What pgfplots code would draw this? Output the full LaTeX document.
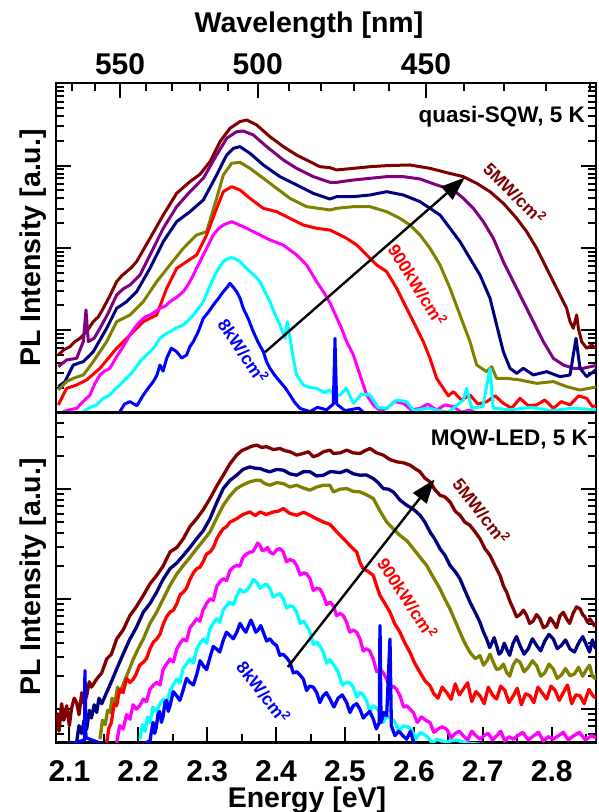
\documentclass[border=0pt]{standalone}
\usepackage{pgfplots}
\pgfplotsset{compat=1.18}
\usepackage{fontspec}
\setmainfont{Liberation Sans}
\usetikzlibrary{arrows.meta}
\definecolor{cMar}{RGB}{128,0,0}
\definecolor{cPur}{RGB}{128,0,128}
\definecolor{cNav}{RGB}{0,0,128}
\definecolor{cOli}{RGB}{128,128,0}
\definecolor{cRed}{RGB}{255,0,0}
\definecolor{cMag}{RGB}{255,0,255}
\definecolor{cCya}{RGB}{0,255,255}
\definecolor{cBlu}{RGB}{0,0,255}
\newcommand{\tfont}{\fontsize{30}{30}\selectfont\bfseries}
\newcommand{\lfont}{\fontsize{28.5}{28.5}\selectfont\bfseries}
\newcommand{\pfont}{\fontsize{22.5}{22.5}\selectfont\bfseries}
\newcommand{\afont}{\fontsize{17.5}{17.5}\selectfont\bfseries}
\pgfplotsset{
  panel/.style={scale only axis, width=540pt, xmin=2.0806, xmax=2.8643,
    axis line style={line width=2.4pt},
    tick style={black, line width=2pt},
    major tick length=15pt, minor tick length=8pt, tick align=inside,
    ytick={1,2,3}, yticklabels={},
    clip mode=individual,
    every axis plot/.append style={line join=round, no marks},
  },
}
\begin{document}
\begin{tikzpicture}
\path[use as bounding box] (-56pt,-69.7pt) rectangle (542pt,742.3pt);
% ---------------- TOP PANEL (quasi-SQW) ----------------
\begin{axis}[panel, at={(0pt,330pt)}, anchor=south west, height=329pt,
  ymin=0, ymax=4,
  xtick pos=right, xticklabel pos=right,
  xtick={2.1736,2.3734,2.6176}, xticklabels={550,500,450},
  minor xtick={2.1035,2.1379,2.2106,2.2490,2.2889,2.3303,2.4183,2.4650,2.5137,2.5645,2.6731,2.7312,2.7920,2.8558},
  xticklabel style={font=\tfont, anchor=base, yshift=8.3pt},
  minor ytick={0.301,0.477,0.602,0.699,0.778,0.845,0.903,0.954,1.301,1.477,1.602,1.699,1.778,1.845,1.903,1.954,2.301,2.477,2.602,2.699,2.778,2.845,2.903,2.954,3.301,3.477,3.602,3.699,3.778,3.845,3.903,3.954},
  every axis plot/.append style={line width=3pt},
]
% maroon 5 MW/cm2
\addplot[cMar] coordinates {(2.0839,0.697)(2.0920,0.76)(2.1009,0.798)(2.1080,0.86)(2.1154,0.899)(2.1250,0.98)(2.1347,1.102)(2.1420,1.16)(2.1492,1.264)(2.1590,1.42)(2.1686,1.588)(2.1760,1.66)(2.1831,1.710)(2.1900,1.76)(2.1976,1.832)(2.2170,2.115)(2.2363,2.399)(2.2557,2.662)(2.2750,2.804)(2.2895,2.893)(2.3041,3.047)(2.3186,3.290)(2.3331,3.453)(2.3476,3.534)(2.3573,3.554)(2.3718,3.493)(2.3911,3.351)(2.4105,3.230)(2.4298,3.128)(2.4492,3.047)(2.4637,2.986)(2.4782,2.974)(2.4879,2.946)(2.5121,2.966)(2.5363,2.986)(2.5605,2.999)(2.5943,3.007)(2.6234,2.966)(2.6476,2.914)(2.6718,2.865)(2.6911,2.784)(2.7105,2.682)(2.7298,2.541)(2.7492,2.358)(2.7637,2.196)(2.7782,1.994)(2.7927,1.750)(2.8024,1.588)(2.8121,1.426)(2.8217,1.264)(2.8266,1.102)(2.8314,1.021)(2.8362,1.183)(2.8387,1.021)(2.8435,0.859)(2.8508,0.778)(2.8580,0.818)(2.8672,0.758)};
% purple
\addplot[cPur] coordinates {(2.0839,0.555)(2.0960,0.636)(2.1105,0.656)(2.1202,0.859)(2.1241,1.244)(2.1275,0.859)(2.1360,0.90)(2.1444,1.021)(2.1560,1.20)(2.1686,1.426)(2.1780,1.50)(2.1879,1.548)(2.2025,1.669)(2.2170,1.913)(2.2363,2.237)(2.2557,2.500)(2.2750,2.682)(2.2944,2.845)(2.3137,3.128)(2.3283,3.331)(2.3428,3.412)(2.3524,3.420)(2.3669,3.372)(2.3863,3.230)(2.4105,3.068)(2.4298,2.966)(2.4540,2.865)(2.4782,2.796)(2.4879,2.796)(2.5121,2.824)(2.5363,2.845)(2.5605,2.865)(2.5847,2.865)(2.6089,2.837)(2.6330,2.764)(2.6573,2.703)(2.6718,2.601)(2.6863,2.480)(2.7008,2.318)(2.7153,2.115)(2.7298,1.832)(2.7443,1.588)(2.7588,1.345)(2.7734,1.102)(2.7879,0.859)(2.8024,0.656)(2.8169,0.575)(2.8314,0.535)(2.8459,0.535)(2.8672,0.575)};
% navy
\addplot[cNav] coordinates {(2.0839,0.312)(2.0936,0.373)(2.1057,0.575)(2.1202,0.616)(2.1347,0.737)(2.1541,1.021)(2.1686,1.264)(2.1831,1.345)(2.1976,1.467)(2.2170,1.750)(2.2363,2.075)(2.2557,2.318)(2.2750,2.439)(2.2944,2.581)(2.3137,2.885)(2.3283,3.128)(2.3379,3.209)(2.3476,3.230)(2.3621,3.149)(2.3815,3.007)(2.4056,2.865)(2.4298,2.764)(2.4540,2.662)(2.4782,2.593)(2.4879,2.622)(2.5121,2.622)(2.5363,2.642)(2.5605,2.682)(2.5847,2.642)(2.6089,2.561)(2.6234,2.480)(2.6379,2.399)(2.6524,2.237)(2.6669,2.075)(2.6814,1.872)(2.6959,1.669)(2.7105,1.386)(2.7201,1.061)(2.7298,0.737)(2.7395,0.535)(2.7492,0.474)(2.7588,0.535)(2.7734,0.454)(2.7927,0.494)(2.8121,0.433)(2.8266,0.454)(2.8353,0.899)(2.8411,0.535)(2.8508,0.433)(2.8672,0.535)};
% olive
\addplot[cOli] coordinates {(2.0839,0.271)(2.0960,0.373)(2.1057,0.413)(2.1202,0.454)(2.1347,0.616)(2.1541,0.859)(2.1686,1.102)(2.1879,1.183)(2.2073,1.345)(2.2267,1.588)(2.2460,1.791)(2.2654,1.994)(2.2847,2.156)(2.2992,2.196)(2.3137,2.601)(2.3234,2.885)(2.3355,3.027)(2.3476,3.039)(2.3621,2.966)(2.3815,2.845)(2.4008,2.723)(2.4202,2.601)(2.4443,2.500)(2.4782,2.460)(2.4879,2.480)(2.5121,2.500)(2.5363,2.500)(2.5605,2.439)(2.5798,2.358)(2.5943,2.277)(2.6089,2.156)(2.6234,1.994)(2.6379,1.791)(2.6524,1.507)(2.6669,1.183)(2.6814,0.859)(2.6911,0.575)(2.7056,0.494)(2.7129,0.555)(2.7201,0.413)(2.7346,0.413)(2.7540,0.393)(2.7782,0.352)(2.8024,0.373)(2.8217,0.312)(2.8411,0.271)(2.8672,0.312)};
% red 900 kW/cm2
\addplot[cRed] coordinates {(2.0839,0.089)(2.0960,0.291)(2.1105,0.332)(2.1251,0.393)(2.1444,0.535)(2.1686,0.778)(2.1879,0.940)(2.2073,1.102)(2.2267,1.183)(2.2412,1.507)(2.2557,1.750)(2.2702,1.832)(2.2847,1.913)(2.2992,2.156)(2.3137,2.480)(2.3234,2.682)(2.3355,2.743)(2.3476,2.703)(2.3621,2.601)(2.3815,2.480)(2.4008,2.439)(2.4202,2.358)(2.4395,2.277)(2.4589,2.237)(2.4782,2.216)(2.4831,2.196)(2.5024,2.115)(2.5170,2.034)(2.5315,1.913)(2.5460,1.791)(2.5605,1.710)(2.5750,1.507)(2.5895,1.264)(2.6040,1.021)(2.6137,0.859)(2.6234,0.656)(2.6330,0.413)(2.6427,0.291)(2.6500,0.20)(2.6573,0.251)(2.6690,0.15)(2.6814,0.210)(2.6930,0.10)(2.7056,0.129)(2.7180,0.20)(2.7298,0.109)(2.7420,0.05)(2.7540,0.170)(2.7660,0.08)(2.7782,0.089)(2.7900,0.15)(2.8024,0.048)(2.8140,0.13)(2.8266,0.089)(2.8390,0.20)(2.8508,0.170)(2.8590,0.07)(2.8672,0.089)};
% magenta
\addplot[cMag] coordinates {(2.0912,0.008)(2.1000,0.03)(2.1105,0.048)(2.1200,0.13)(2.1299,0.210)(2.1370,0.35)(2.1444,0.454)(2.1510,0.50)(2.1589,0.535)(2.1660,0.64)(2.1734,0.737)(2.1810,0.84)(2.1879,0.940)(2.1950,1.03)(2.2025,1.102)(2.2100,1.16)(2.2170,1.183)(2.2240,1.22)(2.2315,1.264)(2.2390,1.29)(2.2460,1.345)(2.2560,1.40)(2.2654,1.467)(2.2730,1.56)(2.2799,1.669)(2.2870,1.79)(2.2944,1.913)(2.3020,2.04)(2.3089,2.156)(2.3160,2.23)(2.3234,2.277)(2.3355,2.318)(2.3524,2.257)(2.3718,2.176)(2.3911,2.095)(2.4105,2.034)(2.4298,1.913)(2.4443,1.791)(2.4589,1.588)(2.4700,1.45)(2.4782,1.33)(2.4880,1.15)(2.4950,1.02)(2.5024,0.859)(2.5121,0.697)(2.5218,0.454)(2.5315,0.210)(2.5411,0.089)(2.5510,0.02)(2.5605,0.048)(2.5720,0.13)(2.5847,0.109)(2.5960,0.03)(2.6089,0.048)(2.6200,0.10)(2.6330,0.028)(2.6450,0.09)(2.6573,0.069)(2.6690,0.0)(2.6814,0.028)(2.7000,-0.05)(2.8672,-0.05)};
% cyan
\addplot[cCya] coordinates {(2.1202,0.008)(2.1300,0.06)(2.1396,0.089)(2.1490,0.17)(2.1589,0.210)(2.1660,0.28)(2.1734,0.332)(2.1810,0.40)(2.1879,0.454)(2.1950,0.53)(2.2025,0.616)(2.2100,0.68)(2.2170,0.737)(2.2240,0.80)(2.2315,0.899)(2.2390,0.95)(2.2460,0.980)(2.2560,1.03)(2.2654,1.061)(2.2730,1.12)(2.2799,1.183)(2.2870,1.26)(2.2944,1.345)(2.3020,1.50)(2.3089,1.629)(2.3160,1.74)(2.3234,1.832)(2.3300,1.87)(2.3355,1.880)(2.3420,1.86)(2.3476,1.832)(2.3550,1.77)(2.3621,1.710)(2.3700,1.65)(2.3766,1.588)(2.3840,1.46)(2.3911,1.345)(2.3980,1.20)(2.4056,1.061)(2.4129,0.899)(2.4163,1.102)(2.4211,0.859)(2.4250,0.65)(2.4298,0.454)(2.4395,0.332)(2.4500,0.30)(2.4589,0.291)(2.4700,0.24)(2.4782,0.271)(2.4850,0.20)(2.4928,0.210)(2.5020,0.29)(2.5121,0.109)(2.5240,0.22)(2.5363,0.210)(2.5480,0.06)(2.5605,0.048)(2.5750,0.15)(2.5895,0.129)(2.6000,0.02)(2.6200,0.05)(2.6500,0.0)(2.6718,0.15)(2.6766,0.29)(2.6840,0.05)(2.7000,0.07)(2.7105,0.53)(2.7150,0.05)(2.7400,0.03)(2.7700,0.06)(2.8000,0.02)(2.8300,0.05)(2.8672,0.03)};
% blue 8 kW/cm2
\addplot[cBlu] coordinates {(2.1734,0.008)(2.1800,0.10)(2.1879,0.129)(2.1980,0.08)(2.2073,0.210)(2.2150,0.30)(2.2218,0.373)(2.2270,0.45)(2.2315,0.575)(2.2360,0.50)(2.2412,0.656)(2.2480,0.78)(2.2557,0.737)(2.2630,0.66)(2.2702,0.697)(2.2750,0.80)(2.2799,0.859)(2.2870,0.98)(2.2944,1.143)(2.3020,1.22)(2.3089,1.305)(2.3160,1.38)(2.3234,1.467)(2.3290,1.52)(2.3331,1.568)(2.3380,1.52)(2.3428,1.467)(2.3480,1.38)(2.3524,1.264)(2.3600,1.13)(2.3669,0.980)(2.3740,0.85)(2.3815,0.737)(2.3860,0.62)(2.3911,0.535)(2.3980,0.45)(2.4056,0.373)(2.4130,0.30)(2.4202,0.210)(2.4270,0.12)(2.4347,0.048)(2.4492,0.008)(2.4600,0.06)(2.4734,0.03)(2.4830,0.10)(2.4855,0.899)(2.4880,0.10)(2.5000,0.02)(2.5200,0.05)(2.5400,-0.1)(2.8672,-0.1)};
\draw[line width=2.4pt, -{Triangle[length=24pt,width=17pt]}] (axis cs:2.384,0.731) -- (axis cs:2.674,2.855);
\node[font=\afont, text=cMar, rotate=-45] at (axis cs:2.7467,2.666) {5MW/cm\textsuperscript{2}};
\node[font=\afont, text=cRed, rotate=-58] at (axis cs:2.6057,1.551) {900kW/cm\textsuperscript{2}};
\node[font=\afont, text=cBlu, rotate=-56] at (axis cs:2.3527,0.745) {8kW/cm\textsuperscript{2}};
\end{axis}
% ---------------- BOTTOM PANEL (MQW-LED) ----------------
\begin{axis}[panel, at={(0pt,0pt)}, anchor=south west, height=330pt,
  ymin=0.699, ymax=3.699,
  xtick pos=left, xticklabel pos=left,
  xtick={2.1,2.2,2.3,2.4,2.5,2.6,2.7,2.8}, xticklabels={2.1,2.2,2.3,2.4,2.5,2.6,2.7,2.8},
  minor xtick={2.15,2.25,2.35,2.45,2.55,2.65,2.75,2.85},
  xticklabel style={font=\tfont, anchor=base, yshift=-39pt},
  minor ytick={0.778,0.845,0.903,0.954,1.301,1.477,1.602,1.699,1.778,1.845,1.903,1.954,2.301,2.477,2.602,2.699,2.778,2.845,2.903,2.954,3.301,3.477,3.602},
  every axis plot/.append style={line width=3.3pt},
]
\addplot[cMar] coordinates {(2.0815,0.970)(2.0850,0.80)(2.0888,1.05)(2.0920,0.90)(2.0960,1.031)(2.1000,0.85)(2.1030,1.00)(2.1070,1.10)(2.1105,1.061)(2.1140,0.95)(2.1180,1.15)(2.1215,1.05)(2.1251,1.122)(2.1290,1.25)(2.1320,1.20)(2.1396,1.274)(2.1470,1.33)(2.1541,1.456)(2.1610,1.50)(2.1686,1.638)(2.1780,1.72)(2.1879,1.851)(2.1970,1.93)(2.2073,2.034)(2.2170,2.14)(2.2267,2.216)(2.2360,2.30)(2.2460,2.429)(2.2560,2.47)(2.2654,2.550)(2.2750,2.66)(2.2847,2.732)(2.2940,2.81)(2.3041,2.915)(2.3140,3.03)(2.3234,3.127)(2.3330,3.23)(2.3428,3.310)(2.3500,3.35)(2.3573,3.370)(2.3645,3.39)(2.3718,3.401)(2.3790,3.38)(2.3863,3.386)(2.3960,3.36)(2.4056,3.370)(2.4130,3.35)(2.4202,3.340)(2.4300,3.31)(2.4395,3.325)(2.4470,3.34)(2.4540,3.295)(2.4610,3.31)(2.4686,3.340)(2.4782,3.355)(2.4831,3.325)(2.4930,3.33)(2.5024,3.355)(2.5120,3.33)(2.5218,3.325)(2.5290,3.35)(2.5363,3.370)(2.5460,3.33)(2.5556,3.310)(2.5650,3.27)(2.5750,3.249)(2.5850,3.24)(2.5943,3.219)(2.6010,3.19)(2.6089,3.158)(2.6160,3.10)(2.6234,3.067)(2.6300,3.00)(2.6379,2.945)(2.6450,2.93)(2.6524,2.884)(2.6600,2.80)(2.6669,2.763)(2.6740,2.70)(2.6814,2.672)(2.6890,2.61)(2.6959,2.550)(2.7030,2.46)(2.7105,2.398)(2.7180,2.30)(2.7250,2.216)(2.7300,2.12)(2.7346,2.064)(2.7400,1.97)(2.7443,1.912)(2.7490,1.84)(2.7540,1.86)(2.7590,1.90)(2.7637,1.851)(2.7680,1.78)(2.7730,1.80)(2.7780,1.86)(2.7830,1.821)(2.7880,1.74)(2.7930,1.76)(2.7980,1.83)(2.8024,1.790)(2.8070,1.74)(2.8120,1.85)(2.8170,1.88)(2.8217,1.821)(2.8260,1.78)(2.8310,1.87)(2.8360,1.93)(2.8411,1.912)(2.8450,1.86)(2.8480,1.84)(2.8520,1.79)(2.8556,1.821)(2.8620,1.76)(2.8672,1.790)};
\addplot[cNav] coordinates {(2.1105,0.696)(2.1140,0.85)(2.1180,0.78)(2.1215,0.90)(2.1251,0.818)(2.1290,0.99)(2.1320,0.92)(2.1360,1.04)(2.1396,0.970)(2.1430,1.10)(2.1470,1.05)(2.1541,1.152)(2.1610,1.25)(2.1686,1.365)(2.1780,1.50)(2.1879,1.638)(2.1970,1.74)(2.2073,1.882)(2.2170,1.96)(2.2267,2.064)(2.2360,2.18)(2.2460,2.277)(2.2560,2.33)(2.2654,2.398)(2.2750,2.47)(2.2847,2.550)(2.2940,2.62)(2.3041,2.732)(2.3140,2.88)(2.3234,3.006)(2.3330,3.08)(2.3428,3.127)(2.3520,3.18)(2.3621,3.203)(2.3700,3.19)(2.3766,3.188)(2.3840,3.17)(2.3911,3.158)(2.4010,3.18)(2.4105,3.173)(2.4200,3.14)(2.4298,3.127)(2.4400,3.16)(2.4492,3.158)(2.4590,3.12)(2.4686,3.127)(2.4782,3.158)(2.4831,3.158)(2.4930,3.15)(2.5024,3.173)(2.5120,3.14)(2.5218,3.127)(2.5310,3.13)(2.5411,3.097)(2.5480,3.06)(2.5556,3.006)(2.5630,3.00)(2.5702,2.975)(2.5800,2.90)(2.5895,2.854)(2.5990,2.82)(2.6089,2.763)(2.6160,2.70)(2.6234,2.611)(2.6300,2.55)(2.6379,2.459)(2.6450,2.40)(2.6524,2.307)(2.6600,2.25)(2.6669,2.185)(2.6740,2.08)(2.6814,1.973)(2.6890,1.88)(2.6959,1.790)(2.7010,1.70)(2.7056,1.638)(2.7100,1.56)(2.7130,1.60)(2.7165,1.65)(2.7201,1.578)(2.7235,1.50)(2.7270,1.52)(2.7310,1.60)(2.7346,1.547)(2.7390,1.49)(2.7440,1.60)(2.7490,1.66)(2.7540,1.578)(2.7600,1.50)(2.7660,1.55)(2.7720,1.64)(2.7782,1.578)(2.7840,1.53)(2.7900,1.62)(2.7960,1.68)(2.8024,1.638)(2.8080,1.55)(2.8140,1.58)(2.8200,1.63)(2.8266,1.547)(2.8330,1.52)(2.8390,1.60)(2.8450,1.66)(2.8508,1.578)(2.8550,1.52)(2.8590,1.63)(2.8630,1.56)(2.8672,1.578)};
\addplot[cOli] coordinates {(2.1444,0.727)(2.1480,0.90)(2.1520,0.86)(2.1555,0.99)(2.1589,0.970)(2.1620,1.10)(2.1660,1.06)(2.1700,1.20)(2.1734,1.152)(2.1830,1.30)(2.1928,1.456)(2.2000,1.55)(2.2073,1.638)(2.2170,1.78)(2.2267,1.882)(2.2360,2.00)(2.2460,2.125)(2.2560,2.23)(2.2654,2.307)(2.2750,2.38)(2.2847,2.459)(2.2940,2.53)(2.3041,2.611)(2.3140,2.74)(2.3234,2.854)(2.3330,2.94)(2.3428,3.006)(2.3520,3.04)(2.3621,3.067)(2.3700,3.08)(2.3766,3.082)(2.3840,3.05)(2.3911,3.036)(2.4010,3.06)(2.4105,3.051)(2.4200,3.02)(2.4298,3.036)(2.4400,3.01)(2.4492,2.991)(2.4590,3.02)(2.4686,3.036)(2.4782,3.036)(2.4831,2.975)(2.4930,3.00)(2.5024,3.006)(2.5120,2.98)(2.5218,2.975)(2.5310,2.95)(2.5411,2.915)(2.5510,2.80)(2.5605,2.702)(2.5700,2.64)(2.5798,2.580)(2.5900,2.53)(2.5992,2.459)(2.6090,2.38)(2.6185,2.307)(2.6280,2.20)(2.6379,2.094)(2.6450,2.00)(2.6524,1.912)(2.6600,1.80)(2.6669,1.699)(2.6740,1.60)(2.6814,1.517)(2.6890,1.46)(2.6959,1.487)(2.7010,1.40)(2.7060,1.44)(2.7105,1.50)(2.7153,1.426)(2.7200,1.36)(2.7250,1.37)(2.7300,1.41)(2.7346,1.335)(2.7390,1.30)(2.7440,1.40)(2.7490,1.45)(2.7540,1.426)(2.7600,1.34)(2.7660,1.38)(2.7720,1.44)(2.7782,1.395)(2.7840,1.30)(2.7900,1.33)(2.7960,1.41)(2.8024,1.365)(2.8080,1.28)(2.8140,1.31)(2.8200,1.37)(2.8266,1.304)(2.8330,1.32)(2.8390,1.38)(2.8450,1.30)(2.8508,1.365)(2.8550,1.40)(2.8590,1.30)(2.8630,1.28)(2.8672,1.335)};
\addplot[cRed] coordinates {(2.1541,0.696)(2.1575,0.83)(2.1610,0.88)(2.1650,1.05)(2.1686,1.031)(2.1730,1.18)(2.1780,1.15)(2.1830,1.28)(2.1879,1.243)(2.1925,1.27)(2.1970,1.32)(2.2020,1.40)(2.2073,1.426)(2.2120,1.46)(2.2170,1.55)(2.2220,1.61)(2.2267,1.638)(2.2315,1.68)(2.2360,1.77)(2.2410,1.84)(2.2460,1.882)(2.2510,1.90)(2.2560,1.96)(2.2607,2.04)(2.2654,2.064)(2.2700,2.10)(2.2750,2.18)(2.2800,2.24)(2.2847,2.277)(2.2893,2.29)(2.2940,2.34)(2.2990,2.41)(2.3041,2.429)(2.3090,2.47)(2.3140,2.55)(2.3187,2.60)(2.3234,2.641)(2.3282,2.66)(2.3330,2.70)(2.3428,2.732)(2.3520,2.77)(2.3621,2.793)(2.3700,2.76)(2.3766,2.793)(2.3860,2.77)(2.3959,2.793)(2.4030,2.80)(2.4105,2.824)(2.4200,2.78)(2.4298,2.763)(2.4400,2.79)(2.4492,2.763)(2.4590,2.73)(2.4686,2.702)(2.4782,2.68)(2.4900,2.60)(2.5024,2.520)(2.5100,2.47)(2.5170,2.429)(2.5220,2.33)(2.5266,2.277)(2.5340,2.25)(2.5411,2.216)(2.5460,2.12)(2.5508,2.034)(2.5580,1.96)(2.5653,1.882)(2.5720,1.78)(2.5798,1.699)(2.5870,1.60)(2.5943,1.517)(2.6010,1.42)(2.6089,1.335)(2.6160,1.26)(2.6234,1.213)(2.6290,1.14)(2.6350,1.10)(2.6410,1.20)(2.6476,1.152)(2.6540,1.09)(2.6600,1.23)(2.6660,1.13)(2.6718,1.183)(2.6780,1.24)(2.6840,1.07)(2.6900,1.16)(2.6959,1.122)(2.7020,1.05)(2.7080,1.20)(2.7140,1.13)(2.7201,1.092)(2.7260,1.21)(2.7320,1.17)(2.7380,1.06)(2.7443,1.122)(2.7500,1.19)(2.7560,1.04)(2.7620,1.14)(2.7685,1.122)(2.7740,1.06)(2.7800,1.20)(2.7860,1.15)(2.7927,1.092)(2.7990,1.21)(2.8050,1.17)(2.8110,1.08)(2.8169,1.152)(2.8230,1.22)(2.8290,1.05)(2.8350,1.13)(2.8411,1.122)(2.8470,1.05)(2.8540,1.18)(2.8600,1.12)(2.8672,1.092)};
\addplot[cMag] coordinates {(2.1686,0.696)(2.1730,0.85)(2.1780,0.82)(2.1830,0.95)(2.1879,0.909)(2.1925,1.04)(2.1970,1.00)(2.2020,1.03)(2.2073,1.092)(2.2120,1.07)(2.2170,1.18)(2.2220,1.22)(2.2267,1.243)(2.2315,1.22)(2.2360,1.36)(2.2410,1.41)(2.2460,1.456)(2.2510,1.43)(2.2560,1.55)(2.2607,1.60)(2.2654,1.638)(2.2700,1.62)(2.2750,1.74)(2.2800,1.78)(2.2847,1.821)(2.2893,1.80)(2.2940,1.90)(2.2990,1.96)(2.3041,2.003)(2.3090,1.99)(2.3140,2.12)(2.3187,2.16)(2.3234,2.185)(2.3282,2.17)(2.3330,2.26)(2.3380,2.29)(2.3428,2.307)(2.3474,2.30)(2.3520,2.38)(2.3570,2.41)(2.3621,2.429)(2.3660,2.43)(2.3700,2.47)(2.3733,2.51)(2.3766,2.489)(2.3800,2.44)(2.3840,2.45)(2.3876,2.47)(2.3911,2.429)(2.3960,2.41)(2.4010,2.45)(2.4058,2.46)(2.4105,2.429)(2.4150,2.34)(2.4200,2.36)(2.4250,2.35)(2.4298,2.307)(2.4350,2.22)(2.4400,2.24)(2.4445,2.23)(2.4492,2.185)(2.4540,2.08)(2.4590,2.10)(2.4640,2.09)(2.4686,2.034)(2.4735,1.95)(2.4782,1.973)(2.4831,1.942)(2.4880,1.85)(2.4930,1.87)(2.4977,1.85)(2.5024,1.790)(2.5070,1.70)(2.5120,1.72)(2.5170,1.70)(2.5218,1.638)(2.5265,1.53)(2.5310,1.55)(2.5360,1.53)(2.5411,1.456)(2.5460,1.34)(2.5510,1.36)(2.5557,1.33)(2.5605,1.274)(2.5650,1.19)(2.5700,1.21)(2.5750,1.18)(2.5798,1.122)(2.5850,1.02)(2.5900,1.03)(2.5945,1.00)(2.5992,0.970)(2.6050,0.88)(2.6110,0.93)(2.6170,0.90)(2.6234,0.879)(2.6290,0.79)(2.6350,0.82)(2.6410,0.84)(2.6476,0.818)(2.6540,0.74)(2.6600,0.78)(2.6660,0.80)(2.6718,0.757)(2.6780,0.72)(2.6840,0.80)(2.6900,0.76)(2.6959,0.727)(2.7020,0.76)(2.7080,0.78)(2.7140,0.72)(2.7201,0.757)(2.7260,0.80)(2.7320,0.71)(2.7380,0.75)(2.7443,0.727)(2.7510,0.76)(2.7580,0.79)(2.7660,0.72)(2.7734,0.757)(2.7810,0.79)(2.7880,0.71)(2.7950,0.75)(2.8024,0.727)(2.8100,0.76)(2.8170,0.79)(2.8240,0.72)(2.8314,0.757)(2.8400,0.79)(2.8490,0.72)(2.8580,0.76)(2.8672,0.727)};
\addplot[cCya] coordinates {(2.2025,0.727)(2.2060,0.86)(2.2100,0.80)(2.2135,0.93)(2.2170,0.879)(2.2215,1.02)(2.2260,0.98)(2.2310,1.04)(2.2363,1.092)(2.2410,1.05)(2.2460,1.17)(2.2508,1.22)(2.2557,1.274)(2.2603,1.24)(2.2650,1.37)(2.2700,1.41)(2.2750,1.456)(2.2800,1.42)(2.2850,1.55)(2.2897,1.60)(2.2944,1.638)(2.2992,1.60)(2.3040,1.73)(2.3088,1.78)(2.3137,1.821)(2.3183,1.79)(2.3230,1.90)(2.3280,1.94)(2.3331,1.973)(2.3380,1.95)(2.3430,2.03)(2.3477,2.09)(2.3524,2.064)(2.3572,2.08)(2.3620,2.12)(2.3670,2.18)(2.3718,2.155)(2.3765,2.10)(2.3810,2.12)(2.3860,2.14)(2.3911,2.094)(2.3960,2.02)(2.4010,2.04)(2.4058,2.05)(2.4105,2.003)(2.4150,1.92)(2.4200,1.94)(2.4250,1.93)(2.4298,1.882)(2.4350,1.78)(2.4400,1.80)(2.4445,1.76)(2.4492,1.699)(2.4540,1.59)(2.4590,1.61)(2.4640,1.57)(2.4686,1.517)(2.4735,1.42)(2.4782,1.45)(2.4840,1.40)(2.4900,1.34)(2.4960,1.22)(2.5024,1.243)(2.5070,1.24)(2.5120,1.20)(2.5170,1.11)(2.5218,1.152)(2.5265,1.13)(2.5310,1.08)(2.5360,0.99)(2.5411,1.031)(2.5460,1.01)(2.5510,0.97)(2.5555,0.88)(2.5605,0.940)(2.5660,0.92)(2.5720,0.89)(2.5780,0.80)(2.5847,0.848)(2.5910,0.84)(2.5970,0.81)(2.6030,0.73)(2.6089,0.788)(2.6150,0.77)(2.6210,0.74)(2.6270,0.69)(2.6330,0.727)(2.6450,0.70)(2.6600,0.72)(2.6800,0.69)(2.7000,0.68)(2.8672,0.66)};
\addplot[cBlu] coordinates {(2.1000,0.68)(2.1220,0.72)(2.1226,1.35)(2.1240,0.74)(2.1500,0.68)(2.2000,0.66)(2.2170,0.712)(2.2192,0.80)(2.2215,0.88)(2.2238,0.78)(2.2260,0.83)(2.2285,0.95)(2.2310,0.98)(2.2336,0.88)(2.2363,0.940)(2.2386,1.06)(2.2410,1.08)(2.2435,0.98)(2.2460,1.03)(2.2508,1.16)(2.2557,1.122)(2.2603,1.08)(2.2650,1.17)(2.2700,1.28)(2.2750,1.243)(2.2800,1.22)(2.2850,1.32)(2.2897,1.44)(2.2944,1.395)(2.2992,1.36)(2.3040,1.47)(2.3088,1.57)(2.3137,1.547)(2.3183,1.52)(2.3230,1.62)(2.3280,1.70)(2.3331,1.669)(2.3380,1.64)(2.3430,1.70)(2.3477,1.78)(2.3524,1.730)(2.3562,1.70)(2.3600,1.76)(2.3635,1.81)(2.3669,1.760)(2.3705,1.70)(2.3740,1.72)(2.3778,1.76)(2.3815,1.699)(2.3862,1.62)(2.3910,1.64)(2.3960,1.60)(2.4008,1.578)(2.4054,1.49)(2.4100,1.50)(2.4150,1.47)(2.4202,1.426)(2.4250,1.33)(2.4300,1.34)(2.4348,1.31)(2.4395,1.274)(2.4443,1.17)(2.4490,1.21)(2.4540,1.20)(2.4589,1.152)(2.4635,1.06)(2.4680,1.12)(2.4730,1.15)(2.4782,1.092)(2.4840,1.02)(2.4900,1.10)(2.4960,1.13)(2.5024,1.061)(2.5072,0.97)(2.5120,1.03)(2.5170,1.05)(2.5218,1.000)(2.5265,0.92)(2.5310,0.95)(2.5360,0.98)(2.5411,0.909)(2.5455,0.82)(2.5498,0.879)(2.5508,1.760)(2.5523,0.879)(2.5565,0.97)(2.5605,0.940)(2.5653,1.638)(2.5673,0.848)(2.5725,0.76)(2.5780,0.80)(2.5840,0.76)(2.5895,0.727)(2.5950,0.80)(2.6000,0.69)(2.6100,0.66)(2.8672,0.62)};
\draw[line width=2.4pt, -{Triangle[length=24pt,width=17pt]}] (axis cs:2.417,1.383) -- (axis cs:2.630,3.089);
\node[font=\afont, text=cMar, rotate=-52] at (axis cs:2.698,2.804) {5MW/cm\textsuperscript{2}};
\node[font=\afont, text=cRed, rotate=-57] at (axis cs:2.591,2.010) {900kW/cm\textsuperscript{2}};
\node[font=\afont, text=cBlu, rotate=-52] at (axis cs:2.3819,1.155) {8kW/cm\textsuperscript{2}};
\end{axis}
% ---------------- labels ----------------
\node[font=\lfont, anchor=base] at (253pt,709.3pt) {Wavelength [nm]};
\node[font=\lfont, anchor=base] at (251pt,-65pt) {Energy [eV]};
\node[font=\lfont, rotate=90, anchor=base] at (-16pt,494.3pt) {PL Intensity [a.u.]};
\node[font=\lfont, rotate=90, anchor=base] at (-16pt,165.3pt) {PL Intensity [a.u.]};
\node[font=\pfont, anchor=base east, inner sep=0pt] at (529pt,619.3pt) {quasi-SQW, 5 K};
\node[font=\pfont, anchor=base east, inner sep=0pt] at (532pt,296.3pt) {MQW-LED, 5 K};
\end{tikzpicture}
\end{document}
